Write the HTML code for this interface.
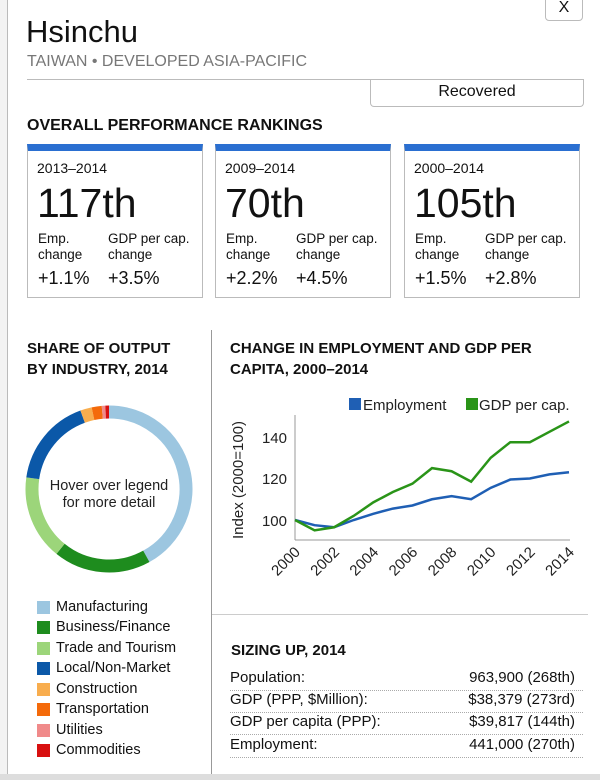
<!DOCTYPE html>
<html><head><style>
body{margin:0;width:600px;height:780px;background:#fff;position:relative;overflow:hidden;font-family:"Liberation Sans",Arial,sans-serif;color:#111}
.a{position:absolute;white-space:nowrap}
.card{position:absolute;top:144px;width:176px;height:154px;border:1px solid #bbb;border-top:7px solid #2a6fd1;box-sizing:border-box}
.card .d{position:absolute;left:9px;top:9px;font-size:14px}
.card .n{position:absolute;left:9px;top:30px;font-size:41px;line-height:44px}
.card .l{position:absolute;top:80px;font-size:13.5px;line-height:16px}
.card .v{position:absolute;top:117px;font-size:18px}
.lg{position:absolute;left:37px;width:13px;height:13px}
.lt{position:absolute;left:56px;font-size:14.5px}
.row{position:absolute;left:230px;width:353px;height:22px;border-bottom:1px dotted #aaa;font-size:15px;line-height:20px}
.row span{position:absolute;right:8px}
</style></head><body>
<div class="a" style="left:0;top:0;width:7px;height:780px;background:#f3f3f3;border-right:1px solid #bbb"></div>
<div class="a" style="left:545px;top:-4px;width:36px;height:23px;border:1px solid #bbb;border-radius:0 0 4px 4px;text-align:center;font-size:16px;line-height:22px">X</div>
<div class="a" style="left:26px;top:14px;font-size:31px">Hsinchu</div>
<div class="a" style="left:27px;top:53px;font-size:16px;color:#777">TAIWAN • DEVELOPED ASIA-PACIFIC</div>
<div class="a" style="left:27px;top:79px;width:556px;height:1px;background:#bbb"></div>
<div class="a" style="left:370px;top:79px;width:212px;height:27px;border:1px solid #bbb;border-top:none;border-radius:0 0 4px 4px;text-align:center;font-size:16px;line-height:26px">Recovered</div>
<div class="a" style="left:27px;top:117px;font-size:16px;font-weight:bold">OVERALL PERFORMANCE RANKINGS</div>

<div class="card" style="left:27px"><div class="d">2013–2014</div><div class="n">117th</div><div class="l" style="left:10px">Emp.<br>change</div><div class="l" style="left:80px">GDP per cap.<br>change</div><div class="v" style="left:10px">+1.1%</div><div class="v" style="left:80px">+3.5%</div></div>
<div class="card" style="left:215px"><div class="d">2009–2014</div><div class="n">70th</div><div class="l" style="left:10px">Emp.<br>change</div><div class="l" style="left:80px">GDP per cap.<br>change</div><div class="v" style="left:10px">+2.2%</div><div class="v" style="left:80px">+4.5%</div></div>
<div class="card" style="left:404px"><div class="d">2000–2014</div><div class="n">105th</div><div class="l" style="left:10px">Emp.<br>change</div><div class="l" style="left:80px">GDP per cap.<br>change</div><div class="v" style="left:10px">+1.5%</div><div class="v" style="left:80px">+2.8%</div></div>

<div class="a" style="left:211px;top:330px;width:1px;height:450px;background:#999"></div>
<div class="a" style="left:212px;top:614px;width:376px;height:1px;background:#ccc"></div>
<div class="a" style="left:0;top:774px;width:600px;height:6px;background:#ddd"></div>

<div class="a" style="left:27px;top:338px;font-size:15px;font-weight:bold;line-height:21px">SHARE OF OUTPUT<br>BY INDUSTRY, 2014</div>
<div class="a" style="left:230px;top:338px;font-size:15px;font-weight:bold;line-height:21px">CHANGE IN EMPLOYMENT AND GDP PER<br>CAPITA, 2000–2014</div>

<svg class="a" style="left:0;top:0" width="600" height="780">
<g font-family="Liberation Sans,Arial,sans-serif" font-size="15" fill="#222">
<line x1="295" y1="415" x2="295" y2="540" stroke="#999"/>
<line x1="295" y1="540" x2="570" y2="540" stroke="#999"/>
<text x="287" y="443" text-anchor="end">140</text>
<text x="287" y="484" text-anchor="end">120</text>
<text x="287" y="526" text-anchor="end">100</text>
<text transform="translate(243,480) rotate(-90)" text-anchor="middle">Index (2000=100)</text>
<rect x="349" y="398" width="12" height="12" fill="#1f5fb4"/><text x="363" y="410">Employment</text>
<rect x="466" y="398" width="12" height="12" fill="#2a9418"/><text x="479" y="410">GDP per cap.</text>
</g>
<g id="ticks" font-family="Liberation Sans,Arial,sans-serif" font-size="15" fill="#222"></g>
<polyline id="emp" fill="none" stroke="#1f5fb4" stroke-width="2.5"/>
<polyline id="gdp" fill="none" stroke="#2a9418" stroke-width="2.5"/>
<g id="donut" fill="none" stroke-width="13"></g>
<text x="109" y="490" font-family="Liberation Sans,Arial,sans-serif" font-size="14.5" text-anchor="middle" fill="#222">Hover over legend</text>
<text x="109" y="507" font-family="Liberation Sans,Arial,sans-serif" font-size="14.5" text-anchor="middle" fill="#222">for more detail</text>
</svg>

<div class="lg" style="top:601px;background:#9cc6e0"></div><div class="lt" style="top:599px">Manufacturing</div>
<div class="lg" style="top:621px;background:#1e8c1e"></div><div class="lt" style="top:619px">Business/Finance</div>
<div class="lg" style="top:642px;background:#9cd57a"></div><div class="lt" style="top:640px">Trade and Tourism</div>
<div class="lg" style="top:662px;background:#0b58a8"></div><div class="lt" style="top:660px">Local/Non-Market</div>
<div class="lg" style="top:683px;background:#f8ad4e"></div><div class="lt" style="top:681px">Construction</div>
<div class="lg" style="top:703px;background:#f46a0a"></div><div class="lt" style="top:701px">Transportation</div>
<div class="lg" style="top:724px;background:#f08a8a"></div><div class="lt" style="top:722px">Utilities</div>
<div class="lg" style="top:744px;background:#d81010"></div><div class="lt" style="top:742px">Commodities</div>

<div class="a" style="left:231px;top:642px;font-size:15px;font-weight:bold">SIZING UP, 2014</div>
<div class="row" style="top:668px">Population:<span>963,900 (268th)</span></div>
<div class="row" style="top:690px">GDP (PPP, $Million):<span>$38,379 (273rd)</span></div>
<div class="row" style="top:712px">GDP per capita (PPP):<span>$39,817 (144th)</span></div>
<div class="row" style="top:735px">Employment:<span>441,000 (270th)</span></div>

<script>
var emp=[100,97.5,96.5,100,103,105.5,107,110,111.5,110,115.5,119.5,120,122,123];
var gdp=[100,95,96.5,102,108.5,113.5,117.5,125,123.5,118.5,130,137.5,137.5,142.5,147.5];
function X(i){return 295+i*274/14}function Y(v){return 520-(v-100)*2.075}
document.getElementById('emp').setAttribute('points',emp.map((v,i)=>X(i)+','+Y(v)).join(' '));
document.getElementById('gdp').setAttribute('points',gdp.map((v,i)=>X(i)+','+Y(v)).join(' '));
var t='';for(var y=2000;y<=2014;y+=2){var x=X(y-2000);t+='<text transform="translate('+(x+6)+',553) rotate(-45)" text-anchor="end">'+y+'</text>';}
document.getElementById('ticks').innerHTML=t;
var segs=[[0,151,'#9cc6e0'],[151,219,'#1e8c1e'],[219,278,'#9cd57a'],[278,340,'#0b58a8'],[340,348,'#f8ad4e'],[348,355,'#f46a0a'],[355,357.5,'#f08a8a'],[357.5,360,'#d81010']];
var r=77,cx=109,cy=489,h='';
function pt(a){a=a*Math.PI/180;return (cx+r*Math.sin(a)).toFixed(2)+','+(cy-r*Math.cos(a)).toFixed(2)}
segs.forEach(s=>{h+='<path stroke="'+s[2]+'" d="M'+pt(s[0])+' A'+r+','+r+' 0 '+((s[1]-s[0])>180?1:0)+' 1 '+pt(s[1])+'"/>';});
document.getElementById('donut').innerHTML=h;
</script>
</body></html>
